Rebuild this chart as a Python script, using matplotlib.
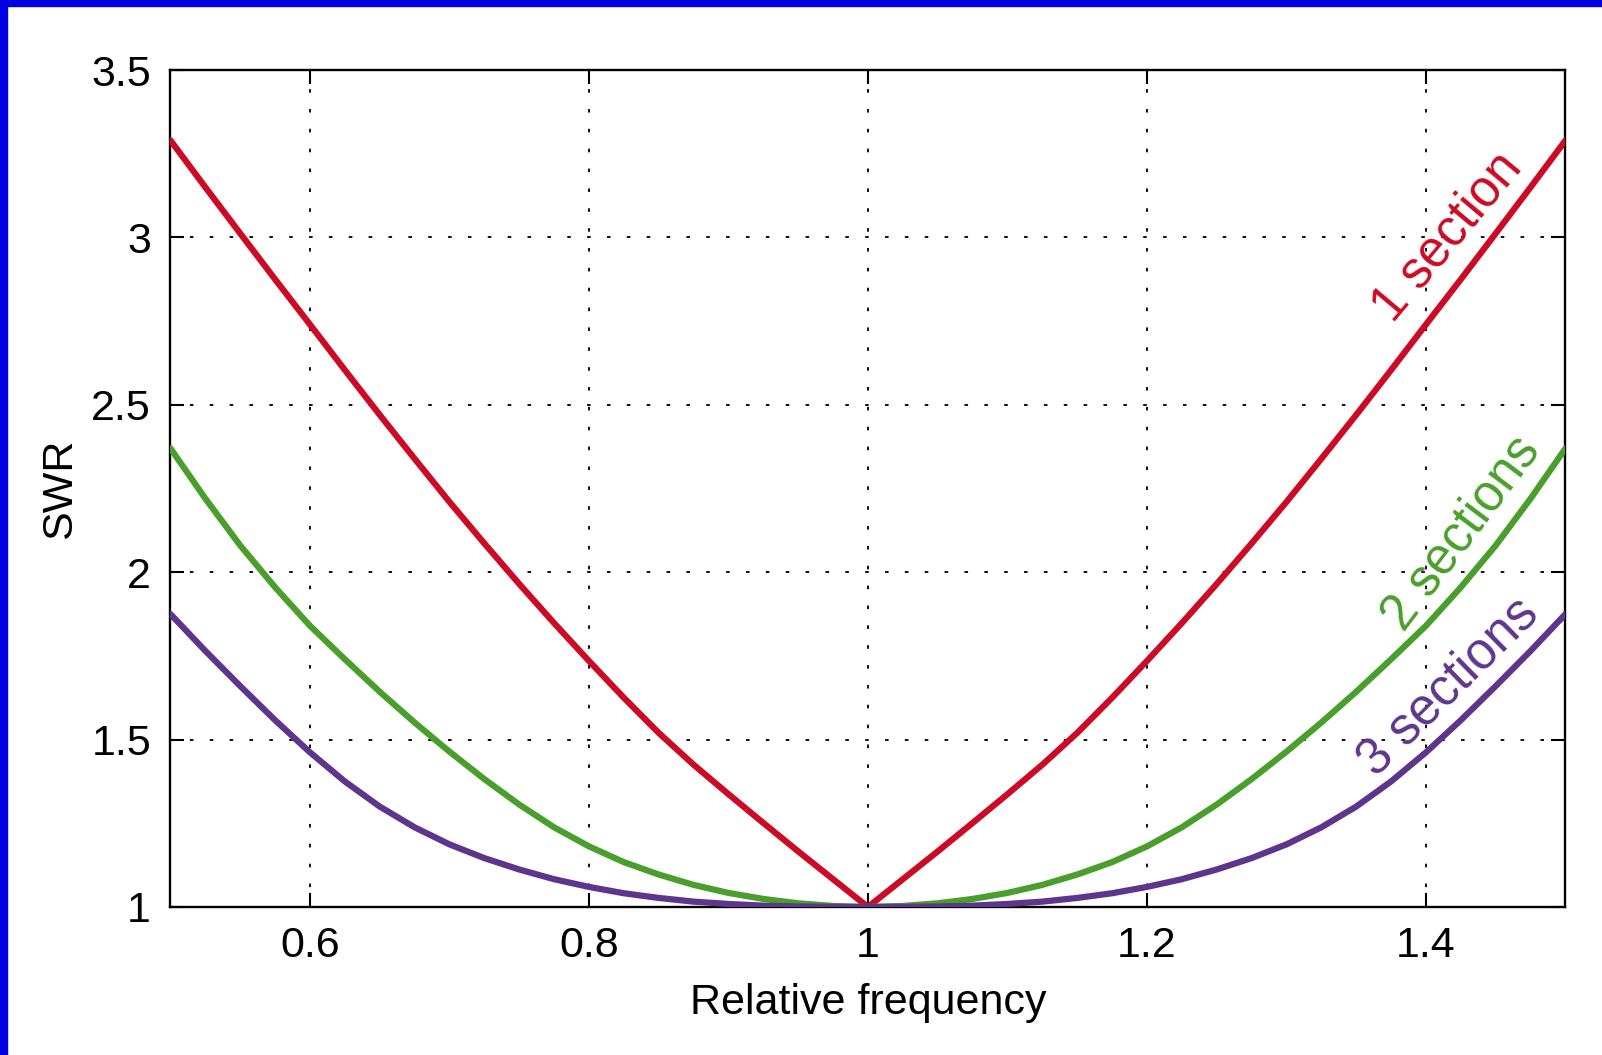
import numpy as np
import matplotlib
matplotlib.use("Agg")
import matplotlib.pyplot as plt
from matplotlib.patches import Rectangle
from matplotlib.ticker import FormatStrFormatter

# relative frequency, read every 0.025 (curves are symmetric about f = 1)
freq = [0.500, 0.525, 0.550, 0.575, 0.600, 0.625, 0.650, 0.675, 0.700, 0.725,
        0.750, 0.775, 0.800, 0.825, 0.850, 0.875, 0.900, 0.925, 0.950, 0.975,
        1.000,
        1.025, 1.050, 1.075, 1.100, 1.125, 1.150, 1.175, 1.200, 1.225, 1.250,
        1.275, 1.300, 1.325, 1.350, 1.375, 1.400, 1.425, 1.450, 1.475, 1.500]

swr1 = [3.29, 3.15, 3.012, 2.875, 2.74, 2.604, 2.47, 2.339, 2.21, 2.086,
        1.965, 1.848, 1.735, 1.625, 1.52, 1.425, 1.337, 1.251, 1.166, 1.083,
        1.00,
        1.083, 1.166, 1.251, 1.337, 1.425, 1.52, 1.625, 1.735, 1.848, 1.965,
        2.086, 2.21, 2.339, 2.47, 2.604, 2.74, 2.875, 3.012, 3.15, 3.29]

swr2 = [2.37, 2.22, 2.08, 1.955, 1.84, 1.74, 1.643, 1.551, 1.464, 1.382,
        1.306, 1.238, 1.181, 1.134, 1.097, 1.066, 1.042, 1.024, 1.011, 1.003,
        1.00,
        1.003, 1.011, 1.024, 1.042, 1.066, 1.097, 1.134, 1.181, 1.238, 1.306,
        1.382, 1.464, 1.551, 1.643, 1.74, 1.84, 1.955, 2.08, 2.22, 2.37]

swr3 = [1.875, 1.765, 1.66, 1.558, 1.462, 1.375, 1.30, 1.238, 1.187, 1.146,
        1.112, 1.083, 1.06, 1.041, 1.027, 1.016, 1.009, 1.004, 1.0015, 1.0003,
        1.00,
        1.0003, 1.0015, 1.004, 1.009, 1.016, 1.027, 1.041, 1.06, 1.083, 1.112,
        1.146, 1.187, 1.238, 1.30, 1.375, 1.462, 1.558, 1.66, 1.765, 1.875]

labels = ["1 section", "2 sections", "3 sections"]
colors = ["#cc0a24", "#4a9f2c", "#5e358c"]

xticks = [0.6, 0.8, 1.0, 1.2, 1.4]
yticks = [1, 1.5, 2, 2.5, 3, 3.5]

plt.rcParams['font.family'] = ['Liberation Sans', 'DejaVu Sans']

fig = plt.figure(figsize=(16.02, 10.55), dpi=100)
ax = fig.add_axes([0.1064, 0.1403, 0.9772 - 0.1064, 0.9336 - 0.1403])

for y, c in zip([swr1, swr2, swr3], colors):
  ax.plot(freq, y, color=c, linewidth=4.5, solid_capstyle='round',
          solid_joinstyle='round', zorder=3)

ax.set_xlim(0.5, 1.5)
ax.set_ylim(1, 3.5)
ax.set_xticks(xticks)
ax.set_yticks(yticks)
ax.xaxis.set_major_formatter(FormatStrFormatter('%g'))
ax.yaxis.set_major_formatter(FormatStrFormatter('%g'))
ax.grid(True, color='k', linestyle=(0, (2, 9)), linewidth=1.3)
ax.tick_params(direction='in', length=10, width=1.5, top=True, right=True,
               labelsize=31, pad=14)
for s in ax.spines.values():
  s.set_linewidth(1.7)

ax.set_xlabel("Relative frequency", fontsize=31, labelpad=12)
ax.set_ylabel("SWR", fontsize=31, labelpad=8)

# curve labels
ax.text(1.4158, 3.00, labels[0], color=colors[0], fontsize=36.5, rotation=50,
        ha='center', va='center', rotation_mode='anchor')
ax.text(1.4256, 2.115, labels[1], color=colors[1], fontsize=36.5, rotation=53,
        ha='center', va='center', rotation_mode='anchor')
ax.text(1.4165, 1.656, labels[2], color=colors[2], fontsize=37, rotation=44.5,
        ha='center', va='center', rotation_mode='anchor')

# blue frame on top and left edges
fig.patches.append(Rectangle((0, 1 - 6 / 1055), 1, 6 / 1055, transform=fig.transFigure,
                             color='#0000e0', zorder=10))
fig.patches.append(Rectangle((0, 0), 7 / 1602, 1, transform=fig.transFigure,
                             color='#0000e0', zorder=10))

fig.savefig("out.png", dpi=100)
